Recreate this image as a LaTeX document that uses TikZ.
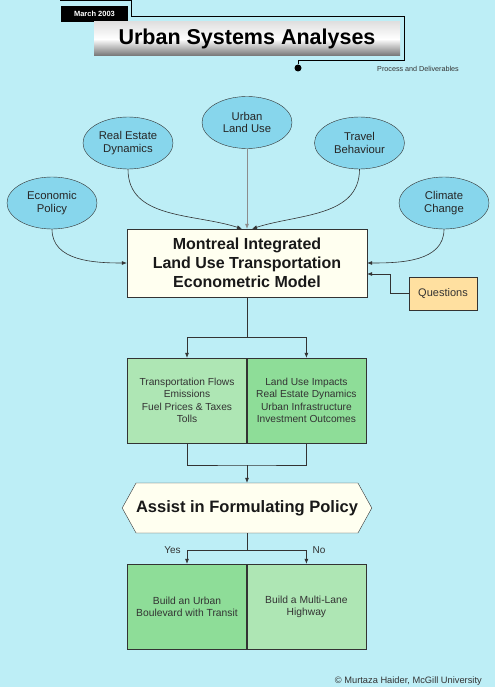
\documentclass[tikz,border=0pt]{standalone}
\usepackage{fontspec}
\setmainfont{Liberation Sans}
\usepackage{xcolor}
\usetikzlibrary{positioning}
\usetikzlibrary{arrows.meta}
\usetikzlibrary{calc}
\usetikzlibrary{shapes.geometric}
\usetikzlibrary{shapes.symbols}
\definecolor{sky}{HTML}{BDEEF6}
\definecolor{bubblefill}{HTML}{87D6EC}
\definecolor{cream}{HTML}{FFFFF0}
\definecolor{palegreen}{HTML}{AEE6B4}
\definecolor{midgreen}{HTML}{8EDD98}
\definecolor{sand}{HTML}{FFE0A0}
\definecolor{ink}{HTML}{333333}
\tikzset{
  % An input factor of the model
  factor/.style={
    ellipse, draw=black!80, fill=bubblefill, align=center, text=black!85,
    font=\fontsize{11.3}{12.7}\selectfont, inner sep=0pt,
    minimum width=90pt, minimum height=52pt},
  % The central model and the policy step
  modelbox/.style={
    draw=ink, fill=cream, align=center, inner sep=3pt, text=black!90,
    font=\fontsize{16}{19}\selectfont\bfseries,
    minimum width=240pt, minimum height=68pt},
  % One half of a two-part result box
  half/.style={
    draw=ink, fill=#1, align=center, text=ink, inner sep=2pt,
    font=\fontsize{10.2}{12.5}\selectfont,
    minimum width=119pt, minimum height=85pt},
  % A side input
  askbox/.style={
    draw=ink, fill=sand, align=center, text=ink,
    font=\fontsize{11}{12}\selectfont, minimum width=68pt, minimum height=33pt},
  % Header pieces
  datetag/.style={
    fill=black, text=white, font=\fontsize{7.5}{8}\selectfont\bfseries,
    minimum width=67pt, minimum height=16pt, inner sep=0pt},
  titlebar/.style={
    top color=black!12, bottom color=black!55, middle color=white,
    font=\fontsize{21.5}{24}\selectfont\bfseries,
    minimum width=306pt, minimum height=34pt, inner sep=0pt},
  pin/.style={circle, fill=black, inner sep=0pt, minimum size=7pt},
  note/.style={font=\fontsize{7.2}{8}\selectfont, text=ink, inner sep=0pt},
  % Connectors
  frame/.style={draw=black, line width=0.8pt},
  link/.style={draw=ink, line width=0.8pt},
  feed/.style={-{Latex[length=5pt, width=4pt]}, draw=ink, line width=0.6pt},
  lbl/.style={font=\fontsize{10}{11}\selectfont, text=ink, inner sep=0pt},
}

\begin{document}
\begin{tikzpicture}[x=1pt, y=-1pt]

  \fill[sky] (0,0) rectangle (495,687);

  % header
  \node[pin] (dot) at (298,68) {};
  \draw[frame] (60,0.6) -- (131.5,0.6) -- (131.5,16.5) -- (404,16.5)
    -- (404,60) -- (298,60) -- (dot);
  \node[datetag] (date) at (94.5,14) {March 2003};
  \node[titlebar] (title) at (247,39) {Urban Systems Analyses};
  \node[note, anchor=west] (sub) at (377,69) {Process and Deliverables};

  % input factors
  \node[factor] (landuse) at (247,122.5) {Urban\\Land Use};
  \node[factor] (realestate) at (128,143) {Real Estate\\Dynamics};
  \node[factor] (travel) at (359.5,143) {Travel\\Behaviour};
  \node[factor] (economic) at (52,203) {Economic\\Policy};
  \node[factor] (climate) at (444,203) {Climate\\Change};

  % the model
  \node[modelbox] (model) at (247,263)
    {Montreal Integrated\\Land Use Transportation\\Econometric Model};
  \node[askbox] (questions) at (443,293.5) {Questions};

  \draw[feed, draw=black!45] (landuse) -- (model.north);
  \draw[feed] (realestate.south) to[out=-90, in=162] ($(model.north)+(-5,0)$);
  \draw[feed] (travel.south) to[out=-90, in=18] ($(model.north)+(5,0)$);
  \draw[feed] (economic.south) to[out=-90, in=180] (model.west);
  \draw[feed] (climate.south) to[out=-90, in=0] (model.east);
  \draw[feed] (questions.west) -- ++(-19,0) |- ($(model.east)+(0,11)$);

  % model outputs
  \node[half=palegreen] (flows) at (187,400.5)
    {Transportation Flows\\Emissions\\Fuel Prices \& Taxes\\Tolls};
  \node[half=midgreen, right=0pt of flows] (impacts)
    {Land Use Impacts\\Real Estate Dynamics\\Urban Infrastructure\\Investment Outcomes};

  \coordinate (fork) at (247,337);
  \draw[link] (model.south) -- (fork);
  \draw[feed] (fork) -| (flows.north);
  \draw[feed] (fork) -| (impacts.north);

  % policy step
  \node[modelbox, signal, signal to=west and east, signal pointer angle=122,
        font=\fontsize{16.5}{19}\selectfont\bfseries, inner xsep=0pt,
        minimum width=248pt, minimum height=50pt] (policy) at (247,508)
    {Assist in Formulating Policy};

  \coordinate (merge) at (247,465);
  \draw[link] (flows.south) |- (merge) -| (impacts.south);
  \draw[feed] (merge) -- (policy.north);

  % alternatives
  \node[half=midgreen, font=\fontsize{10.3}{12}\selectfont] (boulevard) at (187,606.5)
    {Build an Urban\\Boulevard with Transit};
  \node[half=palegreen, font=\fontsize{10.3}{12}\selectfont, right=0pt of boulevard] (highway)
    {Build a Multi-Lane\\Highway};

  \coordinate (choose) at (247,550);
  \draw[link] (policy.south) -- (choose);
  \draw[feed] (choose) -| (boulevard.north)
    node[lbl, pos=0.5, anchor=east, xshift=-6pt] (yes) {Yes};
  \draw[feed] (choose) -| (highway.north)
    node[lbl, pos=0.5, anchor=west, xshift=6pt] (no) {No};

  \node[note, font=\fontsize{9.3}{10}\selectfont, anchor=east] (credit) at (482,681)
    {© Murtaza Haider, McGill University};

\end{tikzpicture}
\end{document}
